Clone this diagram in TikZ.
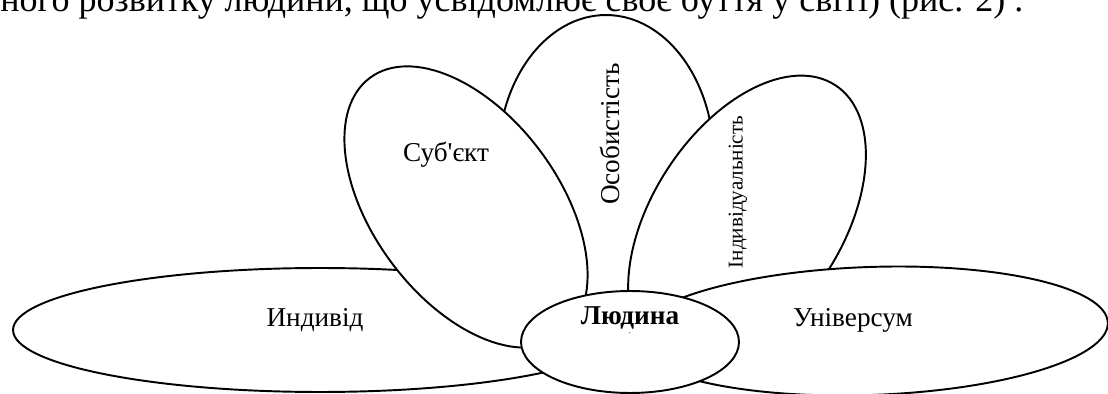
\documentclass[tikz,border=0pt]{standalone}
\usepackage{fontspec}
\setmainfont[Ligatures=TeXOff]{Liberation Serif}
\usetikzlibrary{shapes.geometric}

\begin{document}
\begin{tikzpicture}[x=0.02cm, y=-0.02cm,
  petal/.style={ellipse, draw, fill=white, line width=1.1pt, inner sep=0pt},
  word/.style={font=\fontsize{15.5}{18}\selectfont}]
 \useasboundingbox (0,0) rectangle (1108,394);
 \clip (0,0) rectangle (1108,394);
 \node[anchor=base west, inner sep=0pt, font=\fontsize{20.5}{24}\selectfont] (line) at (0,12) {ного розвитку людини, що усвідомлює своє буття у світі) (рис. 2) .};
 % petals, back to front
 \node[petal, minimum width=12.28cm, minimum height=2.48cm] (ind) at (320,330) {};
 \node[petal, minimum width=4.32cm, minimum height=5.8cm] (osob) at (606,160) {};
 \node[petal, minimum width=6.44cm, minimum height=3.72cm, rotate=-53.4] (sub) at (466,207) {};
 \node[petal, minimum width=6.48cm, minimum height=3.8cm, rotate=57] (indiv) at (747,221) {};
 \node[petal, minimum width=9.52cm, minimum height=2.56cm, rotate=2] (univ) at (870,331) {};
 \node[petal, minimum width=4.36cm, minimum height=2.04cm] (lud) at (630,342) {};
 % labels
 \node[word] (tind) at (315,320) {Индивід};
 \node[word] (tsub) at (446,155) {Суб'єкт};
 \node[word, rotate=90] (tosob) at (610,134) {Особистість};
 \node[font=\fontsize{12}{14}\selectfont, rotate=90] (tindiv) at (738,192) {Індивідуальність};
 \node[word] (tuniv) at (853,320) {Універсум};
 \node[font=\fontsize{15.5}{18}\selectfont\bfseries] (tlud) at (630,318) {Людина};
 \node[font=\tiny] (dot) at (630,333) {.};
\end{tikzpicture}
\end{document}
